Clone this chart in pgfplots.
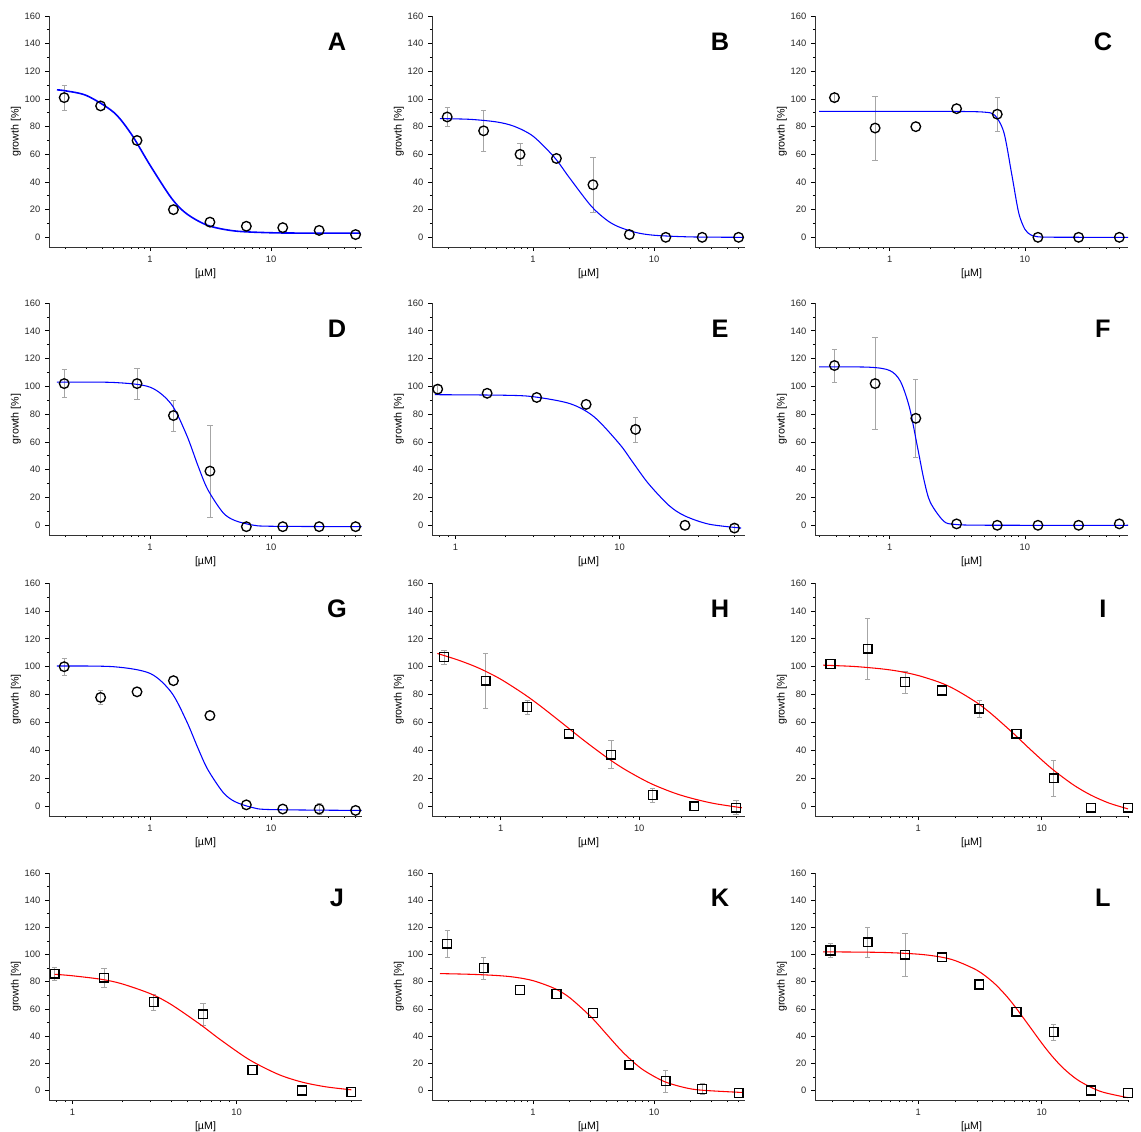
\documentclass[border=0pt]{standalone}
\usepackage{pgfplots}
\pgfplotsset{compat=1.18}
\usepackage{fontspec}
\setmainfont{Liberation Sans}
\newcommand{\px}{0.75pt}
\pgfkeys{/pgf/number format/assume math mode=true}
\pgfplotsset{
 every axis/.append style={
  scale only axis, width=313*\px,
  axis lines*=left, ymin=-7, ymax=160, ytick={0,20,...,160}, minor y tick num=1,
  xtick={1,10}, xticklabels={1,10},
  minor xtick={0.2,0.3,0.4,0.5,0.6,0.7,0.8,0.9,2,3,4,5,6,7,8,9,20,30,40,50},
  tick style={black, line width=0.5pt}, major tick length=3pt, minor tick length=1.6pt,
  tick align=outside,
  ticklabel style={font=\fontsize{7}{8}\selectfont, color=black!85},
  xlabel={[µM]}, ylabel={growth [\%]},
  label style={font=\fontsize{8}{9}\selectfont},
  ylabel style={yshift=-4pt}, xlabel style={yshift=2pt},
  axis line style={black!80, line width=0.6pt},
  clip=false,
 },
 errs/.style={draw=none, mark=none, forget plot, error bars/y dir=both, error bars/y explicit, error bars/error bar style={draw=gray!70, line width=0.5pt}, error bars/error mark options={rotate=90, draw=gray!70, mark size=2pt}},
 dat/.style={only marks, mark=o, mark size=3.6pt, black, mark options={line width=1pt}},
 dats/.style={only marks, mark=square, mark size=3.3pt, black, mark options={line width=1pt}},
 fitb/.style={blue, line width=0.8pt, smooth, no marks},
 fitr/.style={red, line width=0.8pt, smooth, no marks},
}
\newcommand{\letter}[1]{\node[font=\bfseries\fontsize{19}{20}\selectfont, anchor=center] at (rel axis cs:0.92,0.89) {#1};}
\begin{document}
\begin{tikzpicture}
\useasboundingbox (0,0) rectangle (1141*\px,-1131*\px);
% Row 1
\begin{semilogxaxis}[height=231*\px, at={(49*\px,-247*\px)}, anchor=south west, xmin=0.146, xmax=56.5]
\addplot[errs] coordinates {(0.195,101)+-(0,9)};
\addplot[fitb, line width=1.2pt] coordinates {(0.17,106.6)(0.2,105.9)(0.3,102.4)(0.5,90.4)(0.7,74.6)(1,52.1)(1.5,28.4)(2,17.1)(3,8.6)(5,4.6)(10,3.3)(20,3.05)(55,3)};
\addplot[dat] coordinates {(0.195,101)(0.39,95)(0.78,70)(1.56,20)(3.125,11)(6.25,8)(12.5,7)(25,5)(50,2)};
\letter{A}
\end{semilogxaxis}
\begin{semilogxaxis}[height=231*\px, at={(432*\px,-247*\px)}, anchor=south west, xmin=0.146, xmax=56.5]
\addplot[errs] coordinates {(0.195,87)+-(0,7)(0.39,77)+-(0,15)(0.78,60)+-(0,8)(3.125,38)+-(0,20)};
\addplot[fitb] coordinates {(0.17,85.8)(0.3,85.3)(0.5,83.4)(0.7,80.2)(1,73.1)(1.5,57.8)(2,43)(3,22.9)(4,12.9)(5,7.9)(7,3.6)(10,1.5)(20,0.3)(55,0)};
\addplot[dat] coordinates {(0.195,87)(0.39,77)(0.78,60)(1.56,57)(3.125,38)(6.25,2)(12.5,0)(25,0)(50,0)};
\letter{B}
\end{semilogxaxis}
\begin{semilogxaxis}[height=231*\px, at={(815*\px,-247*\px)}, anchor=south west, xmin=0.28, xmax=58]
\addplot[errs] coordinates {(0.39,101)+-(0,3)(0.78,79)+-(0,23)(6.25,89)+-(0,12)};
\addplot[fitb] coordinates {(0.3,91)(1,91)(3,91)(5,90.5)(6,88.2)(7,75.7)(8,45.5)(9,17.8)(10,5.85)(11,1.9)(12,0.7)(15,0.1)(58,0)};
\addplot[dat] coordinates {(0.39,101)(0.78,79)(1.56,80)(3.125,93)(6.25,89)(12.5,0)(25,0)(50,0)};
\letter{C}
\end{semilogxaxis}
% Row 2
\begin{semilogxaxis}[height=232*\px, at={(49*\px,-535*\px)}, anchor=south west, xmin=0.146, xmax=56.5]
\addplot[errs] coordinates {(0.195,102)+-(0,10)(0.78,102)+-(0,11)(1.56,79)+-(0,11)(3.125,39)+-(0,33)};
\addplot[fitb] coordinates {(0.17,103)(0.5,102.8)(1,99.4)(1.5,87.1)(2,65.2)(2.5,42.4)(3,25.7)(4,9.2)(5,3.5)(7,0.2)(10,-0.7)(56,-1)};
\addplot[dat] coordinates {(0.195,102)(0.78,102)(1.56,79)(3.125,39)(6.25,-1)(12.5,-1)(25,-1)(50,-1)};
\letter{D}
\end{semilogxaxis}
\begin{semilogxaxis}[height=232*\px, at={(432*\px,-535*\px)}, anchor=south west, xmin=0.72, xmax=58]
\addplot[errs] coordinates {(0.78,98)+-(0,3)(12.5,69)+-(0,9)(50,-2)+-(0,3)};
\addplot[fitb] coordinates {(0.75,94)(2,93.6)(3,92.5)(5,87.5)(7,78)(10,58.4)(12,45.5)(15,29.9)(20,14.2)(25,6.7)(35,0.8)(55,-2)};
\addplot[dat] coordinates {(0.78,98)(1.56,95)(3.125,92)(6.25,87)(12.5,69)(25,0)(50,-2)};
\letter{E}
\end{semilogxaxis}
\begin{semilogxaxis}[height=232*\px, at={(815*\px,-535*\px)}, anchor=south west, xmin=0.28, xmax=58]
\addplot[errs] coordinates {(0.39,115)+-(0,12)(0.78,102)+-(0,33)(1.56,77)+-(0,28)};
\addplot[fitb] coordinates {(0.3,114)(0.7,113.8)(1,111.4)(1.2,103.6)(1.4,84.8)(1.6,57)(1.8,31.9)(2,16.4)(2.5,3.1)(3,0.7)(5,0.05)(58,0)};
\addplot[dat] coordinates {(0.39,115)(0.78,102)(1.56,77)(3.125,1)(6.25,0)(12.5,0)(25,0)(50,1)};
\letter{F}
\end{semilogxaxis}
% Row 3
\begin{semilogxaxis}[height=233*\px, at={(49*\px,-816*\px)}, anchor=south west, xmin=0.146, xmax=56.5]
\addplot[errs] coordinates {(0.195,100)+-(0,6)(0.39,78)+-(0,5)(25,-2)+-(0,4)};
\addplot[fitb] coordinates {(0.17,100.5)(0.5,100)(1,95.2)(1.5,81.6)(2,61.1)(2.5,41.2)(3,26.3)(4,10.1)(5,3.4)(7,-0.9)(10,-2.4)(56,-3)};
\addplot[dat] coordinates {(0.195,100)(0.39,78)(0.78,82)(1.56,90)(3.125,65)(6.25,1)(12.5,-2)(25,-2)(50,-3)};
\letter{G}
\end{semilogxaxis}
\begin{semilogxaxis}[height=233*\px, at={(432*\px,-816*\px)}, anchor=south west, xmin=0.32, xmax=58]
\addplot[errs] coordinates {(0.39,107)+-(0,5)(0.78,90)+-(0,20)(1.56,71)+-(0,5)(6.25,37)+-(0,10)(12.5,8)+-(0,5)(50,-1)+-(0,5)};
\addplot[fitr] coordinates {(0.35,109.5)(0.5,104.6)(0.7,98.9)(1,91.1)(1.5,79.9)(2,70.8)(3,57)(4,47.1)(6,34.1)(8,26)(12,16.5)(18,9.4)(25,5.2)(35,1.9)(55,-1.1)};
\addplot[dats] coordinates {(0.39,107)(0.78,90)(1.56,71)(3.125,52)(6.25,37)(12.5,8)(25,0)(50,-1)};
\letter{H}
\end{semilogxaxis}
\begin{semilogxaxis}[height=233*\px, at={(815*\px,-816*\px)}, anchor=south west, xmin=0.146, xmax=50]
\addplot[errs] coordinates {(0.39,113)+-(0,22)(0.78,89)+-(0,8)(3.125,70)+-(0,6)(12.5,20)+-(0,13)};
\addplot[fitr] coordinates {(0.17,101.1)(0.3,100.2)(0.5,98.5)(0.7,96.7)(1,93.7)(1.5,88.7)(2,83.6)(3,74.1)(4,65.5)(6,51.6)(8,41.1)(12,27.1)(18,15.4)(25,8)(35,2.3)(50,-1.9)};
\addplot[dats] coordinates {(0.195,102)(0.39,113)(0.78,89)(1.56,83)(3.125,70)(6.25,52)(12.5,20)(25,-1)(50,-1)};
\letter{I}
\end{semilogxaxis}
% Row 4
\begin{semilogxaxis}[height=227*\px, at={(49*\px,-1100*\px)}, anchor=south west, xmin=0.72, xmax=58]
\addplot[errs] coordinates {(0.78,86)+-(0,5)(1.56,83)+-(0,7)(3.125,65)+-(0,6)(6.25,56)+-(0,8)};
\addplot[fitr] coordinates {(0.78,85.5)(1,84.4)(1.5,81.8)(2,78.5)(3,71.1)(4,63.2)(6,48.6)(8,37.2)(12,22.5)(18,11.8)(25,6.2)(35,2.7)(50,0.5)};
\addplot[dats] coordinates {(0.78,86)(1.56,83)(3.125,65)(6.25,56)(12.5,15)(25,0)(50,-1)};
\letter{J}
\end{semilogxaxis}
\begin{semilogxaxis}[height=227*\px, at={(432*\px,-1100*\px)}, anchor=south west, xmin=0.146, xmax=56.5]
\addplot[errs] coordinates {(0.195,108)+-(0,10)(0.39,90)+-(0,8)(12.5,7)+-(0,8)(25,1)+-(0,4)};
\addplot[fitr] coordinates {(0.17,86)(0.3,85.5)(0.5,84.6)(0.7,83.4)(1,80.8)(1.5,75.1)(2,68.4)(3,54.3)(4,42)(5,32.3)(6,25.1)(8,15.6)(12,6.8)(18,2.1)(25,0.2)(55,-1.5)};
\addplot[dats] coordinates {(0.195,108)(0.39,90)(0.78,74)(1.56,71)(3.125,57)(6.25,19)(12.5,7)(25,1)(50,-2)};
\letter{K}
\end{semilogxaxis}
\begin{semilogxaxis}[height=227*\px, at={(815*\px,-1100*\px)}, anchor=south west, xmin=0.146, xmax=50]
\addplot[errs] coordinates {(0.195,103)+-(0,5)(0.39,109)+-(0,11)(0.78,100)+-(0,16)(12.5,43)+-(0,6)};
\addplot[fitr] coordinates {(0.17,102)(0.5,101.6)(1,100.3)(1.5,98.3)(2,95.5)(3,88.4)(4,80)(5,71.1)(6,62.4)(8,47)(10,34.9)(12,25.8)(15,16.3)(20,7.2)(30,-0.7)(50,-5.25)};
\addplot[dats] coordinates {(0.195,103)(0.39,109)(0.78,100)(1.56,98)(3.125,78)(6.25,58)(12.5,43)(25,0)(50,-2)};
\letter{L}
\end{semilogxaxis}
\end{tikzpicture}
\end{document}
